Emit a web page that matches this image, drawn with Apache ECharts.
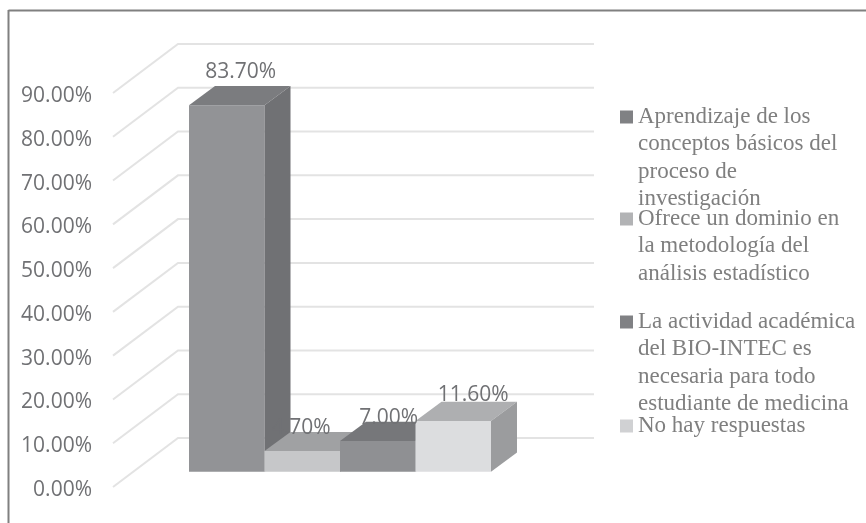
<!DOCTYPE html>
<html>
<head>
<meta charset="utf-8">
<style>html,body{margin:0;padding:0;background:#fff}#c{width:866px;height:523px}</style>
<script src="https://cdn.jsdelivr.net/npm/echarts@6/dist/echarts.min.js"></script>
</head>
<body>
<div id="c"></div>
<script>
var categories = [''];
var seriesNames = [
  'Aprendizaje de los conceptos básicos del proceso de investigación',
  'Ofrece un dominio en la metodología del análisis estadístico',
  'La actividad académica del BIO-INTEC es necesaria para todo estudiante de medicina',
  'No hay respuestas'
];
var legendLines = [
  ['Aprendizaje de los', 'conceptos básicos del', 'proceso de', 'investigación'],
  ['Ofrece un dominio en', 'la metodología del', 'análisis estadístico'],
  ['La actividad académica', 'del BIO-INTEC es', 'necesaria para todo', 'estudiante de medicina'],
  ['No hay respuestas']
];
var values = [83.7, 4.7, 7.0, 11.6];
var valueTicks = [0, 10, 20, 30, 40, 50, 60, 70, 80, 90];

var frontColors = ['#929396', '#c6c7c9', '#8f9093', '#dcdddf'];
var topColors = ['#7b7c7f', '#a0a1a3', '#76777a', '#aeafb1'];
var sideColors = ['#707174', '#8b8c8e', '#68696c', '#9b9c9e'];
var legendColors = ['#808184', '#b2b3b5', '#808184', '#d0d1d3'];
var legendFirstLineY = [117, 219, 322, 426];
var labelLift = [14, 4, 4, 7];
var labelShift = [2, -13, -1, 8];

var LEGEND_LINE = 27.4;
var WALL_DX = 65, WALL_DY = -49;      // depth of the side wall
var BAR_DX = 26, BAR_DY = -19.2;      // depth of one bar
var BAR_SHIFT_X = 19, BAR_SHIFT_Y = -15.3; // bars stand this far behind the front plane
var BAR_BAND_SHARE = 302 / 416;       // all bars together, as share of category band

var chart = echarts.init(document.getElementById('c'), null, { renderer: 'canvas' });

function wallItem(params, api) {
  var v = api.value(0);
  var front = api.coord([0, v]);
  var band = api.size([1, 0])[0];
  var x0 = front[0] - band / 2;
  return {
    type: 'polyline',
    silent: true,
    shape: { points: [
      [x0, front[1]],
      [x0 + WALL_DX, front[1] + WALL_DY],
      [x0 + band + WALL_DX, front[1] + WALL_DY]
    ] },
    style: { fill: 'none', stroke: '#e3e3e3', lineWidth: 2 }
  };
}

function barItem(index) {
  return function (params, api) {
    var top = api.coord([0, api.value(1)]);
    var base = api.coord([0, 0]);
    var band = api.size([1, 0])[0];
    var w = band * BAR_BAND_SHARE / values.length;
    var x0 = top[0] - w * values.length / 2 + index * w + BAR_SHIFT_X;
    var x1 = x0 + w;
    var yTop = top[1] + BAR_SHIFT_Y;
    var yBase = base[1] + BAR_SHIFT_Y;
    return {
      type: 'group',
      children: [
        { type: 'polygon', shape: { points: [[x0, yTop], [x1, yTop], [x1, yBase], [x0, yBase]] },
          style: { fill: frontColors[index] } },
        { type: 'polygon', shape: { points: [[x0, yTop], [x1, yTop], [x1 + BAR_DX, yTop + BAR_DY], [x0 + BAR_DX, yTop + BAR_DY]] },
          style: { fill: topColors[index] } },
        { type: 'polygon', shape: { points: [[x1, yTop], [x1 + BAR_DX, yTop + BAR_DY], [x1 + BAR_DX, yBase + BAR_DY], [x1, yBase]] },
          style: { fill: sideColors[index] } },
        { type: 'text', z2: 20,
          style: {
            x: (x0 + x1 + BAR_DX) / 2 - 1 + labelShift[index],
            y: yTop + BAR_DY - labelLift[index],
            text: api.value(1).toFixed(2) + '%',
            align: 'center', verticalAlign: 'middle',
            font: '21px "Open Sans"', fill: '#707174'
          } }
      ]
    };
  };
}

var series = [{
  type: 'custom', name: 'walls', silent: true, z: 1, clip: false,
  data: valueTicks.map(function (t) { return [t]; }),
  encode: { y: 0 },
  renderItem: wallItem
}];
seriesNames.forEach(function (name, i) {
  series.push({
    type: 'custom', name: name, z: 2, clip: false,
    itemStyle: { color: legendColors[i] },
    data: [[0, values[i]]],
    encode: { x: 0, y: 1 },
    renderItem: barItem(i)
  });
});

var legends = seriesNames.map(function (name, i) {
  var n = legendLines[i].length;
  var blank = new Array(n).join('\n');
  return {
    data: [{ name: name, itemStyle: { color: legendColors[i] } }],
    left: 620,
    top: legendFirstLineY[i] - (2 * n - 1) * LEGEND_LINE / 2,
    padding: 0,
    itemWidth: 13, itemHeight: 13, itemGap: 0,
    icon: 'rect',
    selectedMode: false,
    formatter: function () { return blank + legendLines[i].join('\n'); },
    textStyle: { fontFamily: '"Liberation Serif"', fontSize: 23, color: '#7f7f7f', lineHeight: LEGEND_LINE }
  };
});

chart.setOption({
  animation: false,
  backgroundColor: '#ffffff',
  grid: { left: 113, top: 93, width: 416, height: 394, containLabel: false },
  xAxis: { type: 'category', data: categories, axisLine: { show: false }, axisTick: { show: false }, axisLabel: { show: false } },
  yAxis: {
    type: 'value', min: 0, max: 90, interval: 10,
    axisLine: { show: false }, axisTick: { show: false }, splitLine: { show: false },
    axisLabel: { margin: 21,
      formatter: function (v) { return '{t|' + v.toFixed(2) + '%}'; },
      rich: { t: { fontFamily: '"Open Sans"', fontSize: 21, color: '#707174', padding: [6, 0, 0, 0] } } }
  },
  legend: legends,
  series: series,
  graphic: [
    { type: 'line', silent: true, shape: { x1: 8.5, y1: 10.5, x2: 866, y2: 10.5 }, style: { stroke: '#808080', lineWidth: 2 } },
    { type: 'line', silent: true, shape: { x1: 8.5, y1: 10, x2: 8.5, y2: 523 }, style: { stroke: '#808080', lineWidth: 2 } }
  ]
});
</script>
</body>
</html>
